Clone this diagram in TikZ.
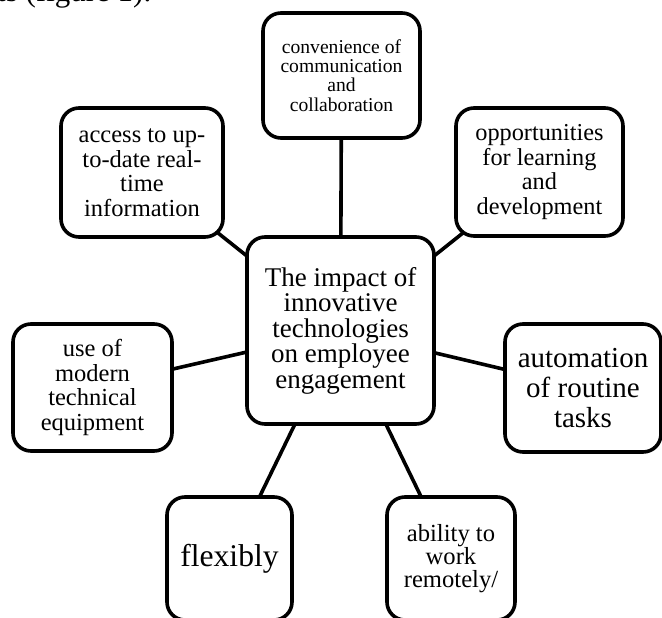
\documentclass[tikz,border=0pt]{standalone}
\usepackage{fontspec}
\setmainfont{Liberation Serif}
\usetikzlibrary{backgrounds}
\tikzset{
  topic/.style={draw=black, line width=3.6pt, rounded corners=18pt, fill=white,
    align=center, inner sep=0pt, font=#1},
  link/.style={line width=3.6pt, black}
}
\newcommand{\fs}[2]{\fontsize{#1}{#2}\selectfont}
\begin{document}
\begin{tikzpicture}[x=1pt, y=-1pt]
\useasboundingbox (0,0) rectangle (662,618);
\node[anchor=base west, inner sep=0pt, font=\fs{31}{31}] (fig) at (-3,2) {ts (figure 1).};
\node[topic=\fs{27}{25.5}, minimum width=187pt, minimum height=187pt] (c) at (340.5,330.5)
  {The impact of\\innovative\\technologies\\on employee\\engagement};
\node[topic=\fs{19.6}{19.2}, minimum width=157pt, minimum height=125pt] (conv) at (341.5,75.5)
  {convenience of\\communication\\and\\collaboration};
\node[topic=\fs{24.5}{24.5}, minimum width=162pt, minimum height=129pt] (acc) at (142,172.5)
  {access to up-\\to-date real-\\time\\information};
\node[topic=\fs{24.3}{24.4}, minimum width=167pt, minimum height=128pt] (opp) at (539.5,172)
  {opportunities\\for learning\\and\\development};
\node[topic=\fs{24.5}{24.4}, minimum width=159pt, minimum height=127pt] (use) at (92.5,387.5)
  {use of\\modern\\technical\\equipment};
\node[topic=\fs{29}{30}, minimum width=156pt, minimum height=128pt] (auto) at (583,388)
  {automation\\of routine\\tasks};
\node[topic=\fs{31.6}{31.6}, minimum width=125pt, minimum height=123pt] (flex) at (229.5,558.5)
  {flexibly};
\node[topic=\fs{24.6}{23}, minimum width=128pt, minimum height=123pt] (abil) at (451,558.5)
  {ability to\\work\\remotely/};
\begin{scope}[on background layer]
  \draw[link] (c.center) -- (conv.center);
  \draw[link] (c.center) -- (acc.center);
  \draw[link] (c.center) -- (opp.center);
  \draw[link] (c.center) -- (use.center);
  \draw[link] (c.center) -- (auto.center);
  \draw[link] (c.center) -- (flex.center);
  \draw[link] (c.center) -- (abil.center);
\end{scope}
\end{tikzpicture}
\end{document}
